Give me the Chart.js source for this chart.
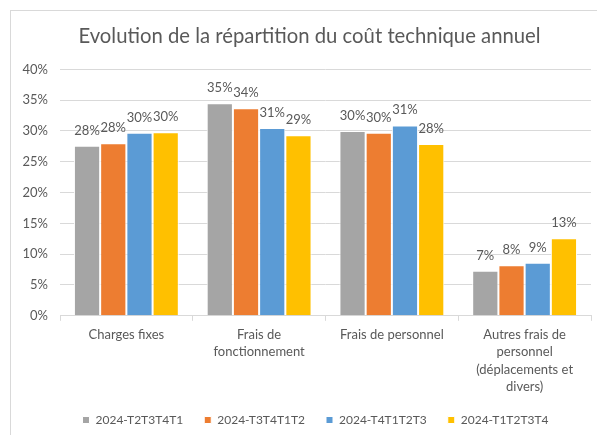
<!DOCTYPE html>
<html>
<head>
<meta charset="utf-8">
<script src="https://cdn.jsdelivr.net/npm/chart.js@4.4.1/dist/chart.umd.min.js"></script>
<style>
  html, body { margin: 0; padding: 0; background: #fff; overflow: hidden; }
  #wrap { width: 620px; height: 450px; }
</style>
</head>
<body>
<div id="wrap"><canvas id="chart"></canvas></div>
<script>
  const categories = [
    'Charges fixes',
    ['Frais de', 'fonctionnement'],
    'Frais de personnel',
    ['Autres frais de', 'personnel', '(déplacements et', 'divers)']
  ];
  const periods = ['2024-T2T3T4T1', '2024-T3T4T1T2', '2024-T4T1T2T3', '2024-T1T2T3T4'];
  const s2024T2T3T4T1 = [27.6, 34.5, 30.0, 7.3];
  const s2024T3T4T1T2 = [28.0, 33.7, 29.7, 8.2];
  const s2024T4T1T2T3 = [29.7, 30.5, 30.9, 8.6];
  const s2024T1T2T3T4 = [29.8, 29.3, 27.9, 12.6];
  const yTicks = [0, 5, 10, 15, 20, 25, 30, 35, 40];

  const colors = ['#A5A5A5', '#ED7D31', '#5B9BD5', '#FFC000'];
  const textColor = '#595959';
  const font = 'Lato';
  const series = [s2024T2T3T4T1, s2024T3T4T1T2, s2024T4T1T2T3, s2024T1T2T3T4];

  // frame + value labels
  const extras = {
    id: 'extras',
    afterLayout(chart) {
      // legend sits a bit right of centre in the original
      chart.legend.left += 6;
      chart.legend.right += 6;
    },
    beforeDraw(chart) {
      const ctx = chart.ctx;
      ctx.save();
      ctx.strokeStyle = '#d9d9d9';
      ctx.lineWidth = 1;
      ctx.strokeRect(10.5, 10.5, 640, 460);
      ctx.restore();
    },
    afterDatasetsDraw(chart) {
      const ctx = chart.ctx;
      ctx.save();
      ctx.fillStyle = textColor;
      ctx.font = '13px ' + font;
      ctx.textAlign = 'center';
      ctx.textBaseline = 'alphabetic';
      chart.data.datasets.forEach((ds, i) => {
        chart.getDatasetMeta(i).data.forEach((bar, j) => {
          ctx.fillText(Math.round(ds.data[j]) + '%', bar.x, bar.y - 11);
        });
      });
      ctx.restore();
    }
  };

  new Chart(document.getElementById('chart'), {
    type: 'bar',
    data: {
      labels: categories,
      datasets: series.map((d, i) => ({
        label: periods[i],
        data: d,
        backgroundColor: colors[i],
        borderColor: '#ffffff',
        borderWidth: 1,
        categoryPercentage: 0.79,
        barPercentage: 1
      }))
    },
    options: {
      responsive: true,
      maintainAspectRatio: false,
      animation: false,
      layout: { padding: { left: 11, right: 12, top: 10, bottom: 14 } },
      plugins: {
        title: {
          display: true,
          text: 'Evolution de la répartition du coût technique annuel',
          color: textColor,
          font: { family: font, size: 20.3, weight: 'normal' },
          padding: { top: 14, bottom: 21 }
        },
        legend: {
          position: 'bottom',
          labels: {
            color: textColor,
            font: { family: font, size: 12 },
            boxWidth: 7,
            boxHeight: 7,
            padding: 21
          }
        },
        tooltip: { enabled: false }
      },
      scales: {
        y: {
          min: 0,
          max: 40,
          afterBuildTicks(scale) { scale.ticks = yTicks.map(v => ({ value: v })); },
          afterFit(scale) { scale.width = 49; },
          ticks: {
            color: textColor,
            font: { family: font, size: 13 },
            padding: 12,
            callback: v => v + '%'
          },
          grid: { color: '#d9d9d9', drawTicks: false },
          border: { display: false }
        },
        // empty margin on the right so the title sits where it does in the original
        yRight: {
          position: 'right',
          display: true,
          afterFit(scale) { scale.width = 17; },
          ticks: { display: false },
          grid: { display: false },
          border: { display: false }
        },
        x: {
          afterFit(scale) { scale.height -= 8; },
          ticks: {
            color: textColor,
            font: { family: font, size: 13, lineHeight: 1.35 },
            padding: 5,
            maxRotation: 0,
            autoSkip: false
          },
          grid: { drawOnChartArea: false, drawTicks: true, tickLength: 5, color: '#d9d9d9' },
          border: { display: true, color: '#d9d9d9' }
        }
      }
    },
    plugins: [extras]
  });
</script>
</body>
</html>
